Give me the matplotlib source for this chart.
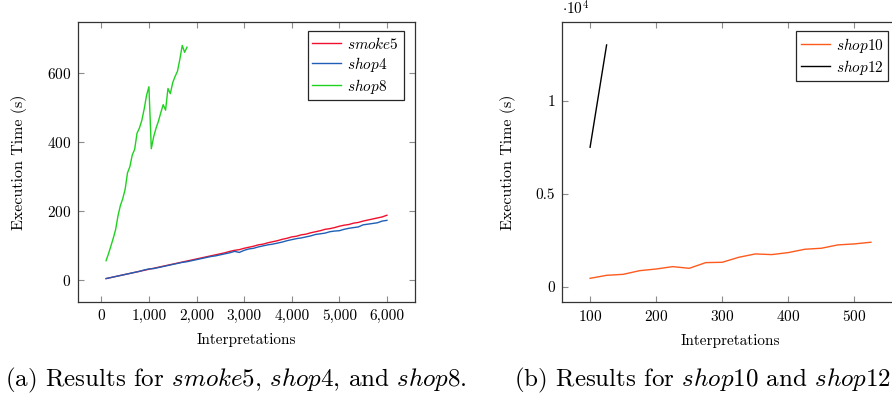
import matplotlib
matplotlib.use("Agg")
import matplotlib.pyplot as plt
from matplotlib.ticker import FuncFormatter, FixedLocator

plt.rcParams['font.family'] = 'cmr10'
plt.rcParams['mathtext.fontset'] = 'cm'
plt.rcParams['axes.formatter.use_mathtext'] = True

# --- data, left panel ---
interp_a = list(range(100, 6001, 100))
smoke5 = [3, 6, 9, 12, 15, 18, 21, 24, 27, 30,
          33, 36, 39, 42, 45, 48, 51, 54, 57, 60,
          63, 66, 69, 72, 75, 78, 82, 85, 87, 91,
          94, 97, 101, 103, 107, 110, 113, 117, 120, 124,
          126, 130, 132, 136, 139, 142, 146, 148, 151, 155,
          158, 160, 164, 166, 170, 173, 176, 179, 182, 187]
shop4 = [3, 6, 9, 12, 15, 18, 21, 24, 28, 31,
         32, 35, 38, 41, 44, 47, 50, 52, 55, 58,
         61, 64, 67, 69, 72, 75, 78, 82, 79, 85,
         89, 91, 95, 98, 101, 103, 106, 109, 113, 116,
         119, 121, 124, 127, 131, 133, 135, 139, 141, 142,
         146, 149, 151, 153, 159, 161, 163, 165, 170, 172]
interp_shop8 = list(range(100, 1801, 50))
shop8 = [55, 75, 97, 120, 145, 185, 215, 235, 262, 310,
         328, 362, 378, 425, 440, 462, 495, 535, 560, 380,
         415, 440, 460, 485, 508, 492, 555, 540, 572, 590,
         605, 640, 680, 660, 675]

# --- data, right panel ---
interp_b = list(range(100, 526, 25))
shop10 = [468, 630, 683, 880, 970, 1097, 1007, 1313, 1331, 1600,
          1780, 1745, 1853, 2032, 2086, 2266, 2320, 2410]
interp_shop12 = [100, 125]
shop12 = [7518, 13021]

fig = plt.figure(figsize=(8.92, 3.98), dpi=100)
ax1 = fig.add_axes([78/892, 96/398, 337/892, 280/398])
ax2 = fig.add_axes([562/892, 96/398, 337/892, 280/398])

lw = 1.0
ax1.plot(interp_a, smoke5, color='#f0102e', lw=lw, label=r'$\mathit{smoke5}$')
ax1.plot(interp_a, shop4, color='#1f5fb5', lw=lw, label=r'$\mathit{shop4}$')
ax1.plot(interp_shop8, shop8, color='#1fd21f', lw=lw, label=r'$\mathit{shop8}$')
ax1.set_xlim(-490, 6590)
ax1.set_ylim(-65, 748)
ax1.xaxis.set_major_locator(FixedLocator([0, 1000, 2000, 3000, 4000, 5000, 6000]))
ax1.yaxis.set_major_locator(FixedLocator([0, 200, 400, 600]))
ax1.xaxis.set_major_formatter(FuncFormatter(lambda v, p: f"{int(v):,}"))

ax2.plot(interp_b, shop10, color='#ff5a1e', lw=lw, label=r'$\mathit{shop10}$')
ax2.plot(interp_shop12, shop12, color='black', lw=lw, label=r'$\mathit{shop12}$')
ax2.set_xlim(57.5, 567.5)
ax2.set_ylim(-805, 14255)
ax2.xaxis.set_major_locator(FixedLocator([100, 200, 300, 400, 500]))
ax2.yaxis.set_major_locator(FixedLocator([0, 5000, 10000]))
ax2.yaxis.set_major_formatter(FuncFormatter(lambda v, p: f"{v/1e4:g}"))
ax2.text(0.0, 1.015, r'$\cdot 10^4$', transform=ax2.transAxes, fontsize=11, va='bottom', ha='left')

for ax in (ax1, ax2):
    ax.tick_params(direction='in', top=True, right=True, length=4, width=0.8,
                   color='0.55', labelsize=11, pad=5)
    for s in ax.spines.values():
        s.set_color('0.2')
        s.set_linewidth(0.9)
    ax.set_xlabel('Interpretations', fontsize=11, labelpad=7)
ax1.set_ylabel('Execution Time (s)', fontsize=11.5, labelpad=14)
ax2.set_ylabel('Execution Time (s)', fontsize=11.5, labelpad=14)

leg_kw = dict(loc='upper right', borderaxespad=0, fancybox=False, edgecolor='0.15',
              framealpha=1, fontsize=11, handlelength=1.9, handletextpad=0.4,
              borderpad=0.3, labelspacing=0.2)
leg1 = ax1.legend(bbox_to_anchor=(0.967, 0.968), **leg_kw)
leg2 = ax2.legend(bbox_to_anchor=((888 - 562) / 337, 0.968), **leg_kw)
for leg in (leg1, leg2):
    leg.get_frame().set_linewidth(0.9)

fig.text(5/892, 1 - 380/398, r'(a) Results for $\mathit{smoke5}$, $\mathit{shop4}$, and $\mathit{shop8}$.',
         fontsize=18, va='center', ha='left')
fig.text(514/892, 1 - 380/398, r'(b) Results for $\mathit{shop10}$ and $\mathit{shop12}$.',
         fontsize=18, va='center', ha='left')

fig.savefig('out.png', dpi=100)
